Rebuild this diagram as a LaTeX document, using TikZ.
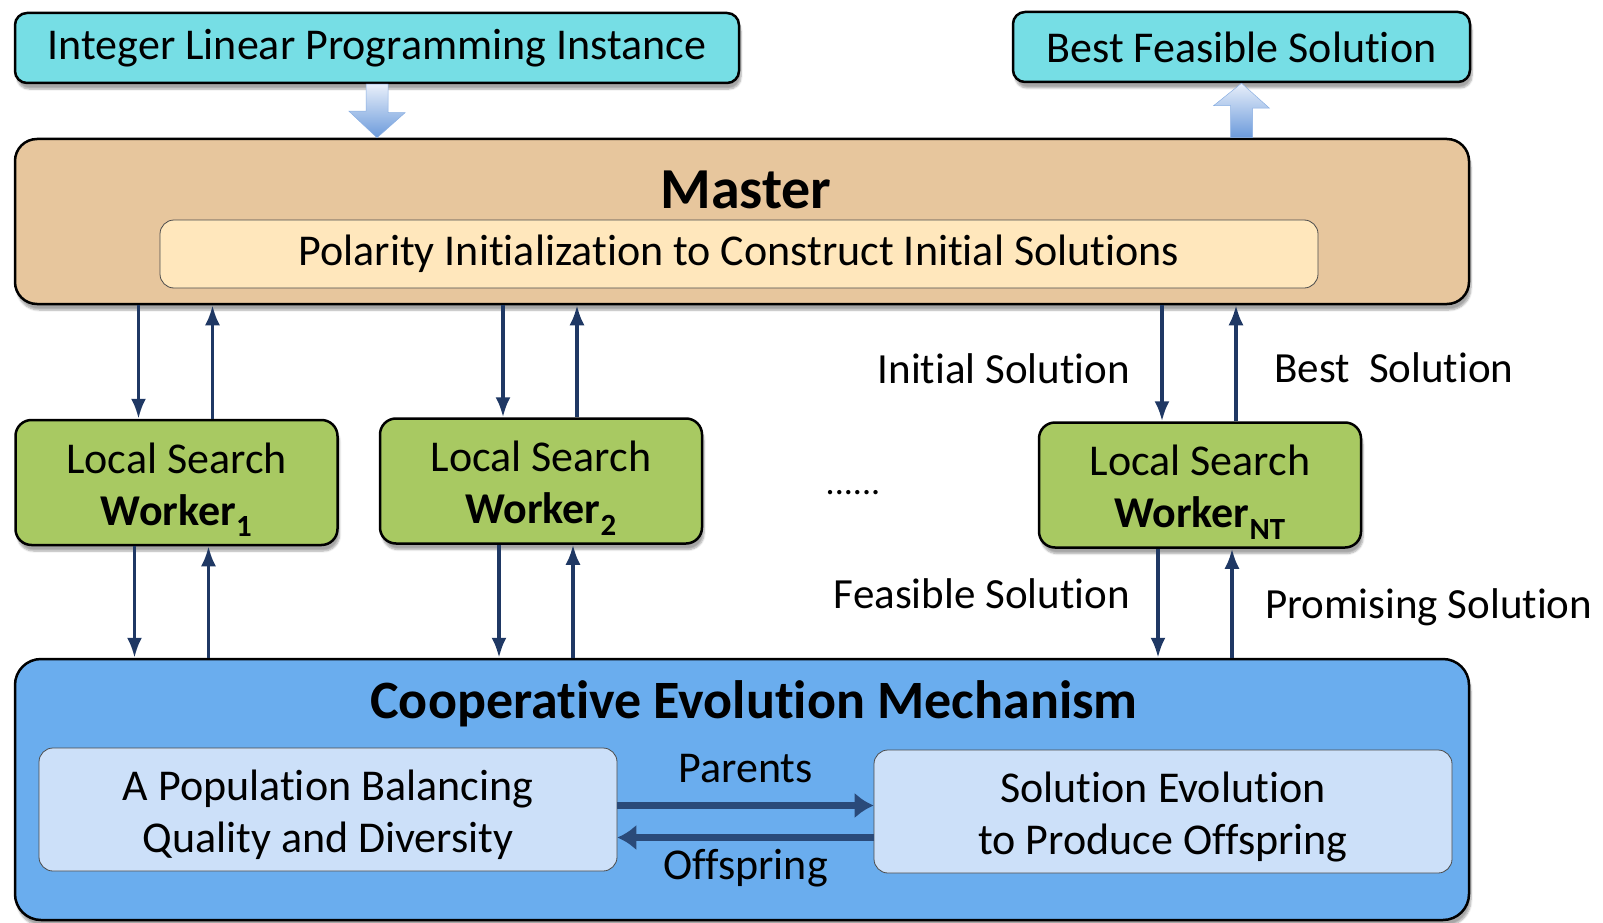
\documentclass[tikz,border=0pt]{standalone}
\usepackage{fontspec}
\setmainfont{Carlito}[Ligatures=NoCommon]
\usepackage{xcolor}
\usetikzlibrary{shapes, arrows.meta, positioning, calc, shadows.blur}

\definecolor{iocyan}{HTML}{76DEE5}
\definecolor{mastertan}{HTML}{E7C69D}
\definecolor{initcream}{HTML}{FFE7BC}
\definecolor{workergreen}{HTML}{A8C962}
\definecolor{evoblue}{HTML}{6AADEE}
\definecolor{evolight}{HTML}{CCE0F9}
\definecolor{navy}{HTML}{1F3864}
\definecolor{fatlight}{HTML}{E8EFFA}
\definecolor{fatblue}{HTML}{6B9ADB}

\newcommand{\wstrut}{\rule{0pt}{45pt}}
\newcommand{\pstrut}{\rule{0pt}{41pt}}

\tikzset{
  txt/.style={font=\fontsize{44}{52}\selectfont},
  lbl/.style={font=\fontsize{43}{50}\selectfont, inner sep=2pt},
  shad/.style={blur shadow={shadow xshift=2pt, shadow yshift=-6pt, shadow blur steps=6, shadow opacity=35}},
  box/.style={draw, line width=2.5pt, rounded corners=16pt, align=center, txt, inner sep=0pt},
  iobox/.style={box, fill=iocyan, rounded corners=12pt, minimum height=70pt, shad},
  workerbox/.style={box, fill=workergreen, minimum width=322pt, minimum height=125pt, shad},
  subbox/.style={draw=black!70, line width=0.8pt, rounded corners=14pt, align=center, txt, inner sep=0pt},
  link/.style={draw=navy, line width=3.4pt, -{Latex[length=20pt, width=15pt]}},
  flow/.style={draw=navy!85!evoblue, line width=7pt, -{Latex[length=19pt, width=26pt]}},
  fatarrow/.style={top color=fatlight, bottom color=fatblue, draw=fatblue!80, line width=0.5pt},
}

\begin{document}
\begin{tikzpicture}[x=1pt, y=-1pt]
        \useasboundingbox (0,0) rectangle (1603,923);

        % input and output
        \node[iobox, minimum width=724pt] (ilp) at (377,48) {\raisebox{-3pt}{Integer Linear Programming Instance}};
        \node[iobox, minimum width=457pt] (best) at (1241.5,47) {Best Feasible Solution};

        % master
        \node[box, fill=mastertan, minimum width=1454pt, minimum height=165pt, rounded corners=22pt, shad] (master) at (742,221.5) {};
        \node[font=\fontsize{58}{62}\selectfont\bfseries] (mastertitle) at (746,190) {Master};
        \node[subbox, fill=initcream, minimum width=1158pt, minimum height=68pt] (polarity) at (739,254) {\raisebox{-3pt}{Polarity Initialization to Construct Initial Solutions}};

        % fat arrows
        \shade[fatarrow] ([xshift=-11pt]ilp.south) -- ++(0,27) -- ++(-17,0) -- (ilp.south |- master.north) -- ++(28,-25) -- ++(-17,0) -- ([xshift=11pt]ilp.south) -- cycle;
        \shade[fatarrow] ([xshift=-11pt]master.north -| best.south) -- ++(0,-32) -- ++(-17,0) -- (best.south) -- ++(28,25) -- ++(-17,0) -- ([xshift=11pt]master.north -| best.south) -- cycle;

        % workers
        \node[workerbox] (w1) at (176.5,482.5) {\wstrut Local Search\\\textbf{Worker\textsubscript{1}}};
        \node[workerbox] (w2) at (541,481) {\wstrut Local Search\\\textbf{Worker\textsubscript{2}}};
        \node[workerbox] (wnt) at (1200,485) {\wstrut Local Search\\\textbf{Worker\textsubscript{NT}}};
        \node[font=\fontsize{36}{40}\selectfont, anchor=base] (dots) at (853,494) {......};

        % evolution
        \node[box, fill=evoblue, minimum width=1454pt, minimum height=261pt, rounded corners=26pt, shad] (cem) at (742,789.5) {};
        \node[font=\fontsize{54}{58}\selectfont\bfseries] (cemtitle) at (754,704) {Cooperative Evolution Mechanism};
        \node[subbox, fill=evolight, minimum width=578pt, minimum height=123pt] (pop) at (328,809.5) {\pstrut A Population Balancing\\Quality and Diversity};
        \node[subbox, fill=evolight, minimum width=578pt, minimum height=123pt] (evol) at (1163,811.5) {\pstrut Solution Evolution\\to Produce Offspring};

        \draw[flow] ([yshift=4pt]pop.east) -- ([yshift=4pt]pop.east -| evol.west) node[midway, above=16pt, txt] (parents) {Parents};
        \draw[flow] ([yshift=-26pt]evol.west) -- ([yshift=-26pt]evol.west -| pop.east) node[midway, below=5pt, txt] (offspring) {Offspring};

        % master <-> workers <-> evolution
        \foreach \w in {w1, w2, wnt} {
            \draw[link] ([xshift=-38pt]\w.north |- master.south) -- ([xshift=-38pt]\w.north);
            \draw[link] ([xshift=36pt]\w.north) -- ([xshift=36pt]\w.north |- master.south);
            \draw[link] ([xshift=-42pt]\w.south) -- ([xshift=-42pt]\w.south |- cem.north);
            \draw[link] ([xshift=32pt]\w.south |- cem.north) -- ([xshift=32pt]\w.south);
        }

        % labels
        \node[lbl, anchor=east] (initlbl) at (1132,369) {Initial Solution};
        \node[lbl, anchor=west] (bestlbl) at (1272,368) {Best\ \ Solution};
        \node[lbl, anchor=east] (feaslbl) at (1132,594) {Feasible Solution};
        \node[lbl, anchor=west] (promlbl) at (1263,607) {Promising Solution};
    \end{tikzpicture}
\end{document}
